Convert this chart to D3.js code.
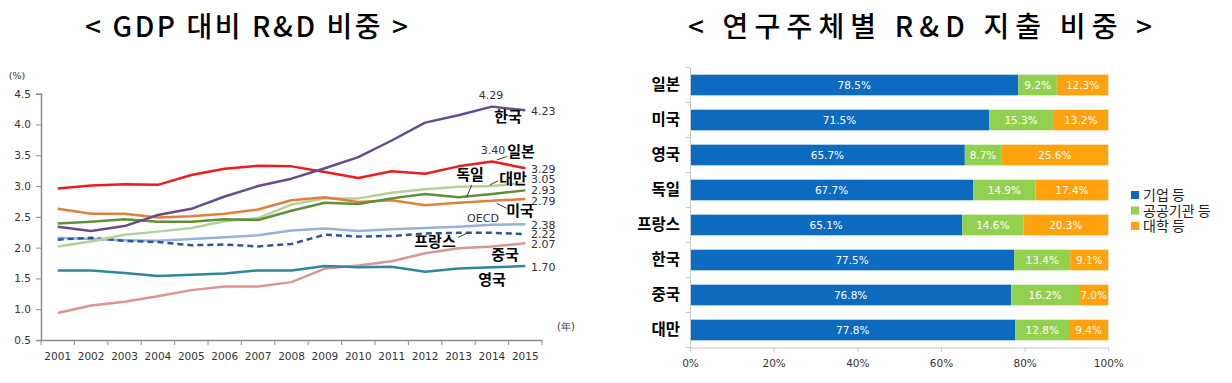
<!DOCTYPE html>
<html><head><meta charset="utf-8">
<script src="https://cdn.jsdelivr.net/npm/d3@7"></script>
<style>
body{margin:0;background:#fff;}
svg{display:block;}
</style></head>
<body>
<svg id="chart" width="1232" height="383"></svg>
<script>
// ---------- Data: line chart ----------
const years = ["2001","2002","2003","2004","2005","2006","2007","2008","2009","2010","2011","2012","2013","2014","2015"];
const korea   = [2.34,2.27,2.35,2.53,2.63,2.83,3.00,3.12,3.29,3.47,3.74,4.03,4.15,4.29,4.23];
const japan   = [2.96,3.01,3.03,3.02,3.18,3.28,3.33,3.32,3.23,3.13,3.24,3.20,3.32,3.40,3.29];
const germany = [2.39,2.42,2.46,2.42,2.42,2.46,2.45,2.60,2.73,2.71,2.80,2.87,2.82,2.87,2.93];
const taiwan  = [2.02,2.10,2.21,2.26,2.32,2.43,2.48,2.70,2.80,2.80,2.89,2.95,2.99,3.00,3.05];
const usa     = [2.63,2.55,2.55,2.49,2.51,2.55,2.62,2.77,2.82,2.74,2.77,2.69,2.73,2.76,2.79];
const oecd    = [2.16,2.14,2.12,2.11,2.14,2.17,2.20,2.28,2.31,2.27,2.30,2.32,2.34,2.37,2.38];
const france  = [2.13,2.16,2.11,2.09,2.04,2.05,2.02,2.06,2.21,2.18,2.19,2.23,2.24,2.24,2.22];
const uk      = [1.63,1.63,1.59,1.54,1.56,1.58,1.63,1.63,1.70,1.68,1.69,1.61,1.66,1.68,1.70];
const china   = [0.94,1.06,1.12,1.21,1.31,1.37,1.37,1.44,1.66,1.71,1.78,1.91,1.99,2.02,2.07];
const yTicks  = [0.5,1.0,1.5,2.0,2.5,3.0,3.5,4.0,4.5];

// ---------- Data: stacked bar chart ----------
const countries = ["일본","미국","영국","독일","프랑스","한국","중국","대만"];
const business  = [78.5,71.5,65.7,67.7,65.1,77.5,76.8,77.8];
const publicInst= [9.2,15.3,8.7,14.9,14.6,13.4,16.2,12.8];
const university= [12.3,13.2,25.6,17.4,20.3,9.1,7.0,9.4];
const segNames  = ["기업 등","공공기관 등","대학 등"];
const pctTicks  = [0,20,40,60,80,100];

const svg = d3.select("#chart");
const numFont = "DejaVu Sans, Verdana, sans-serif";
const krFont = "Noto Sans CJK KR, sans-serif";

// ---------- Titles ----------
svg.append("text").attr("x",85).attr("y",37)
  .attr("font-family",krFont).attr("font-weight",500).attr("font-size",28).attr("fill","#000")
  .attr("textLength",323).attr("lengthAdjust","spacing").text("< GDP 대비 R&D 비중 >");
svg.append("text").attr("x",688).attr("y",37)
  .attr("font-family",krFont).attr("font-weight",500).attr("font-size",28).attr("fill","#000")
  .attr("textLength",464).attr("lengthAdjust","spacing").text("< 연구주체별 R&D 지출 비중 >");

// ---------- Line chart ----------
const x = d3.scaleBand().domain(years).range([41,542]);
const y = d3.scaleLinear().domain([0.5,4.5]).range([340,93.7]);
const gL = svg.append("g");

const yAxis = gL.append("g").attr("transform","translate(41,0)")
  .call(d3.axisLeft(y).tickValues(yTicks).tickFormat(d3.format(".1f")).tickSizeOuter(0).tickSize(5).tickPadding(5));
yAxis.select(".domain").attr("stroke","#8c8c8c").attr("stroke-width",1.5);
yAxis.selectAll(".tick line").attr("stroke","#8c8c8c");
yAxis.selectAll("text").attr("font-family",numFont).attr("font-size",10.5).attr("fill","#333");

const xAxis = gL.append("g").attr("transform","translate(0,340)")
  .call(d3.axisBottom(x).tickSize(0).tickPadding(13));
xAxis.select(".domain").attr("stroke","#8c8c8c").attr("stroke-width",1.5);
xAxis.selectAll("text").attr("font-family",numFont).attr("font-size",10.5).attr("fill","#333");
// boundary ticks
gL.append("g").selectAll("line").data(years.concat(["end"])).join("line")
  .attr("x1",(d,i)=>x.range()[0]+i*x.step()).attr("x2",(d,i)=>x.range()[0]+i*x.step())
  .attr("y1",340).attr("y2",345).attr("stroke","#8c8c8c");

gL.append("text").attr("x",17).attr("y",79).attr("text-anchor","middle")
  .attr("font-family",numFont).attr("font-size",9.5).attr("fill","#333").text("(%)");
gL.append("text").attr("x",566).attr("y",330).attr("text-anchor","middle")
  .attr("font-family",numFont).attr("font-size",10).attr("fill","#333").text("(年)");

const series = [
  {v:china,  c:"#d99694", w:2.5},
  {v:uk,     c:"#31859c", w:2.5},
  {v:oecd,   c:"#95b3d7", w:2.5},
  {v:france, c:"#2f5597", w:2.5, dash:"6,4"},
  {v:taiwan, c:"#b3d199", w:2.5},
  {v:usa,    c:"#e0803c", w:2.5},
  {v:germany,c:"#5f8f37", w:2.5},
  {v:japan,  c:"#ee1c1c", w:2.5},
  {v:korea,  c:"#654d8c", w:2.5}
];
const line = d3.line().x((d,i)=>x(years[i])+x.bandwidth()/2).y(d=>y(d));
gL.append("g").selectAll("path").data(series).join("path")
  .attr("d",d=>line(d.v)).attr("fill","none").attr("stroke",d=>d.c)
  .attr("stroke-width",d=>d.w).attr("stroke-dasharray",d=>d.dash||null)
  .attr("stroke-linejoin","round");

// value labels
const lastX = 531;
const vals = [
  [korea[14],111],[japan[14],169],[taiwan[14],179.5],[germany[14],190.5],[usa[14],201],
  [oecd[14],225],[france[14],234],[china[14],244],[uk[14],267]
];
gL.append("g").selectAll("text").data(vals).join("text")
  .attr("x",lastX).attr("y",d=>d[1]).attr("dy","0.35em")
  .attr("font-family",numFont).attr("font-size",11).attr("fill","#333")
  .text(d=>d3.format(".2f")(d[0]));
gL.append("text").attr("x",491).attr("y",95).attr("dy","0.35em").attr("text-anchor","middle")
  .attr("font-family",numFont).attr("font-size",11).attr("fill","#333").text(d3.format(".2f")(korea[13]));
gL.append("text").attr("x",493).attr("y",150).attr("dy","0.35em").attr("text-anchor","middle")
  .attr("font-family",numFont).attr("font-size",11).attr("fill","#333").text(d3.format(".2f")(japan[13]));

// country names
const names = [
  ["한국",508,117],["일본",521,152],["독일",470,175],["대만",513,179],["미국",520,211],
  ["프랑스",435,242],["중국",505,255],["영국",492,280]
];
gL.append("g").selectAll("text").data(names).join("text")
  .attr("x",d=>d[1]).attr("y",d=>d[2]).attr("dy","0.36em").attr("text-anchor","middle")
  .attr("font-family",krFont).attr("font-weight",700).attr("font-size",15).attr("fill","#000")
  .text(d=>d[0]);
gL.append("text").attr("x",483).attr("y",218).attr("dy","0.35em").attr("text-anchor","middle")
  .attr("font-family",numFont).attr("font-size",11).attr("fill","#333").text("OECD");
// leader lines
const leaders = [[496.7,160,506.7,156.5],[466.7,197,471.7,185],[490,185,498,180.7],[496.7,203.3,506.7,208.3],[458.3,237.3,466.7,233.3]];
gL.append("g").selectAll("line").data(leaders).join("line")
  .attr("x1",d=>d[0]).attr("y1",d=>d[1]).attr("x2",d=>d[2]).attr("y2",d=>d[3])
  .attr("stroke","#333").attr("stroke-width",1);

// ---------- Stacked bar chart ----------
const xb = d3.scaleLinear().domain([0,100]).range([690,1108.3]);
const yb = d3.scaleBand().domain(countries).range([67.5,347.5]).paddingInner(0.41).paddingOuter(0.205);
const segColors = ["#0c6bbf","#92d050","#ffa20e"];
const gB = svg.append("g");

const stackData = countries.map((c,i)=>({c, segs:[business[i],publicInst[i],university[i]]}));
stackData.forEach(d=>{
  let acc=0;
  d.segs.forEach((v,j)=>{
    const g = gB.append("g");
    g.append("rect").attr("x",xb(acc)).attr("y",yb(d.c)).attr("width",xb(acc+v)-xb(acc))
      .attr("height",yb.bandwidth()).attr("fill",segColors[j]);
    g.append("text").attr("x",(xb(acc)+xb(acc+v))/2).attr("y",yb(d.c)+yb.bandwidth()/2)
      .attr("dy","0.35em").attr("text-anchor","middle")
      .attr("font-family",numFont).attr("font-size",10.5).attr("fill","#fff")
      .text(d3.format(".1f")(v)+"%");
    acc+=v;
  });
});

const byAxis = gB.append("g").attr("transform","translate(690,0)")
  .call(d3.axisLeft(yb).tickSize(0).tickPadding(10).tickSizeOuter(0));
byAxis.select(".domain").attr("stroke","#c8c8c8");
byAxis.selectAll("text").attr("font-family",krFont).attr("font-weight",700).attr("font-size",15.5).attr("fill","#000");
// boundary ticks on category axis
gB.append("g").selectAll("line").data(d3.range(countries.length+1)).join("line")
  .attr("x1",686).attr("x2",690)
  .attr("y1",i=>yb.range()[0]+i*yb.step()).attr("y2",i=>yb.range()[0]+i*yb.step())
  .attr("stroke","#c8c8c8");

const bxAxis = gB.append("g").attr("transform","translate(0,347.5)")
  .call(d3.axisBottom(xb).tickValues(pctTicks).tickFormat(d=>d+"%").tickSize(4).tickPadding(8).tickSizeOuter(0));
bxAxis.select(".domain").attr("stroke","#c8c8c8");
bxAxis.selectAll(".tick line").attr("stroke","#c8c8c8");
bxAxis.selectAll("text").attr("font-family",numFont).attr("font-size",10.5).attr("fill","#333");

// legend
const lg = gB.append("g");
segNames.forEach((n,i)=>{
  const yy = 195 + i*15.5;
  lg.append("rect").attr("x",1131).attr("y",yy-4).attr("width",8).attr("height",8).attr("fill",segColors[i]);
  lg.append("text").attr("x",1143).attr("y",yy).attr("dy","0.36em")
    .attr("font-family",krFont).attr("font-size",14).attr("fill","#222").text(n);
});
</script>
</body></html>
